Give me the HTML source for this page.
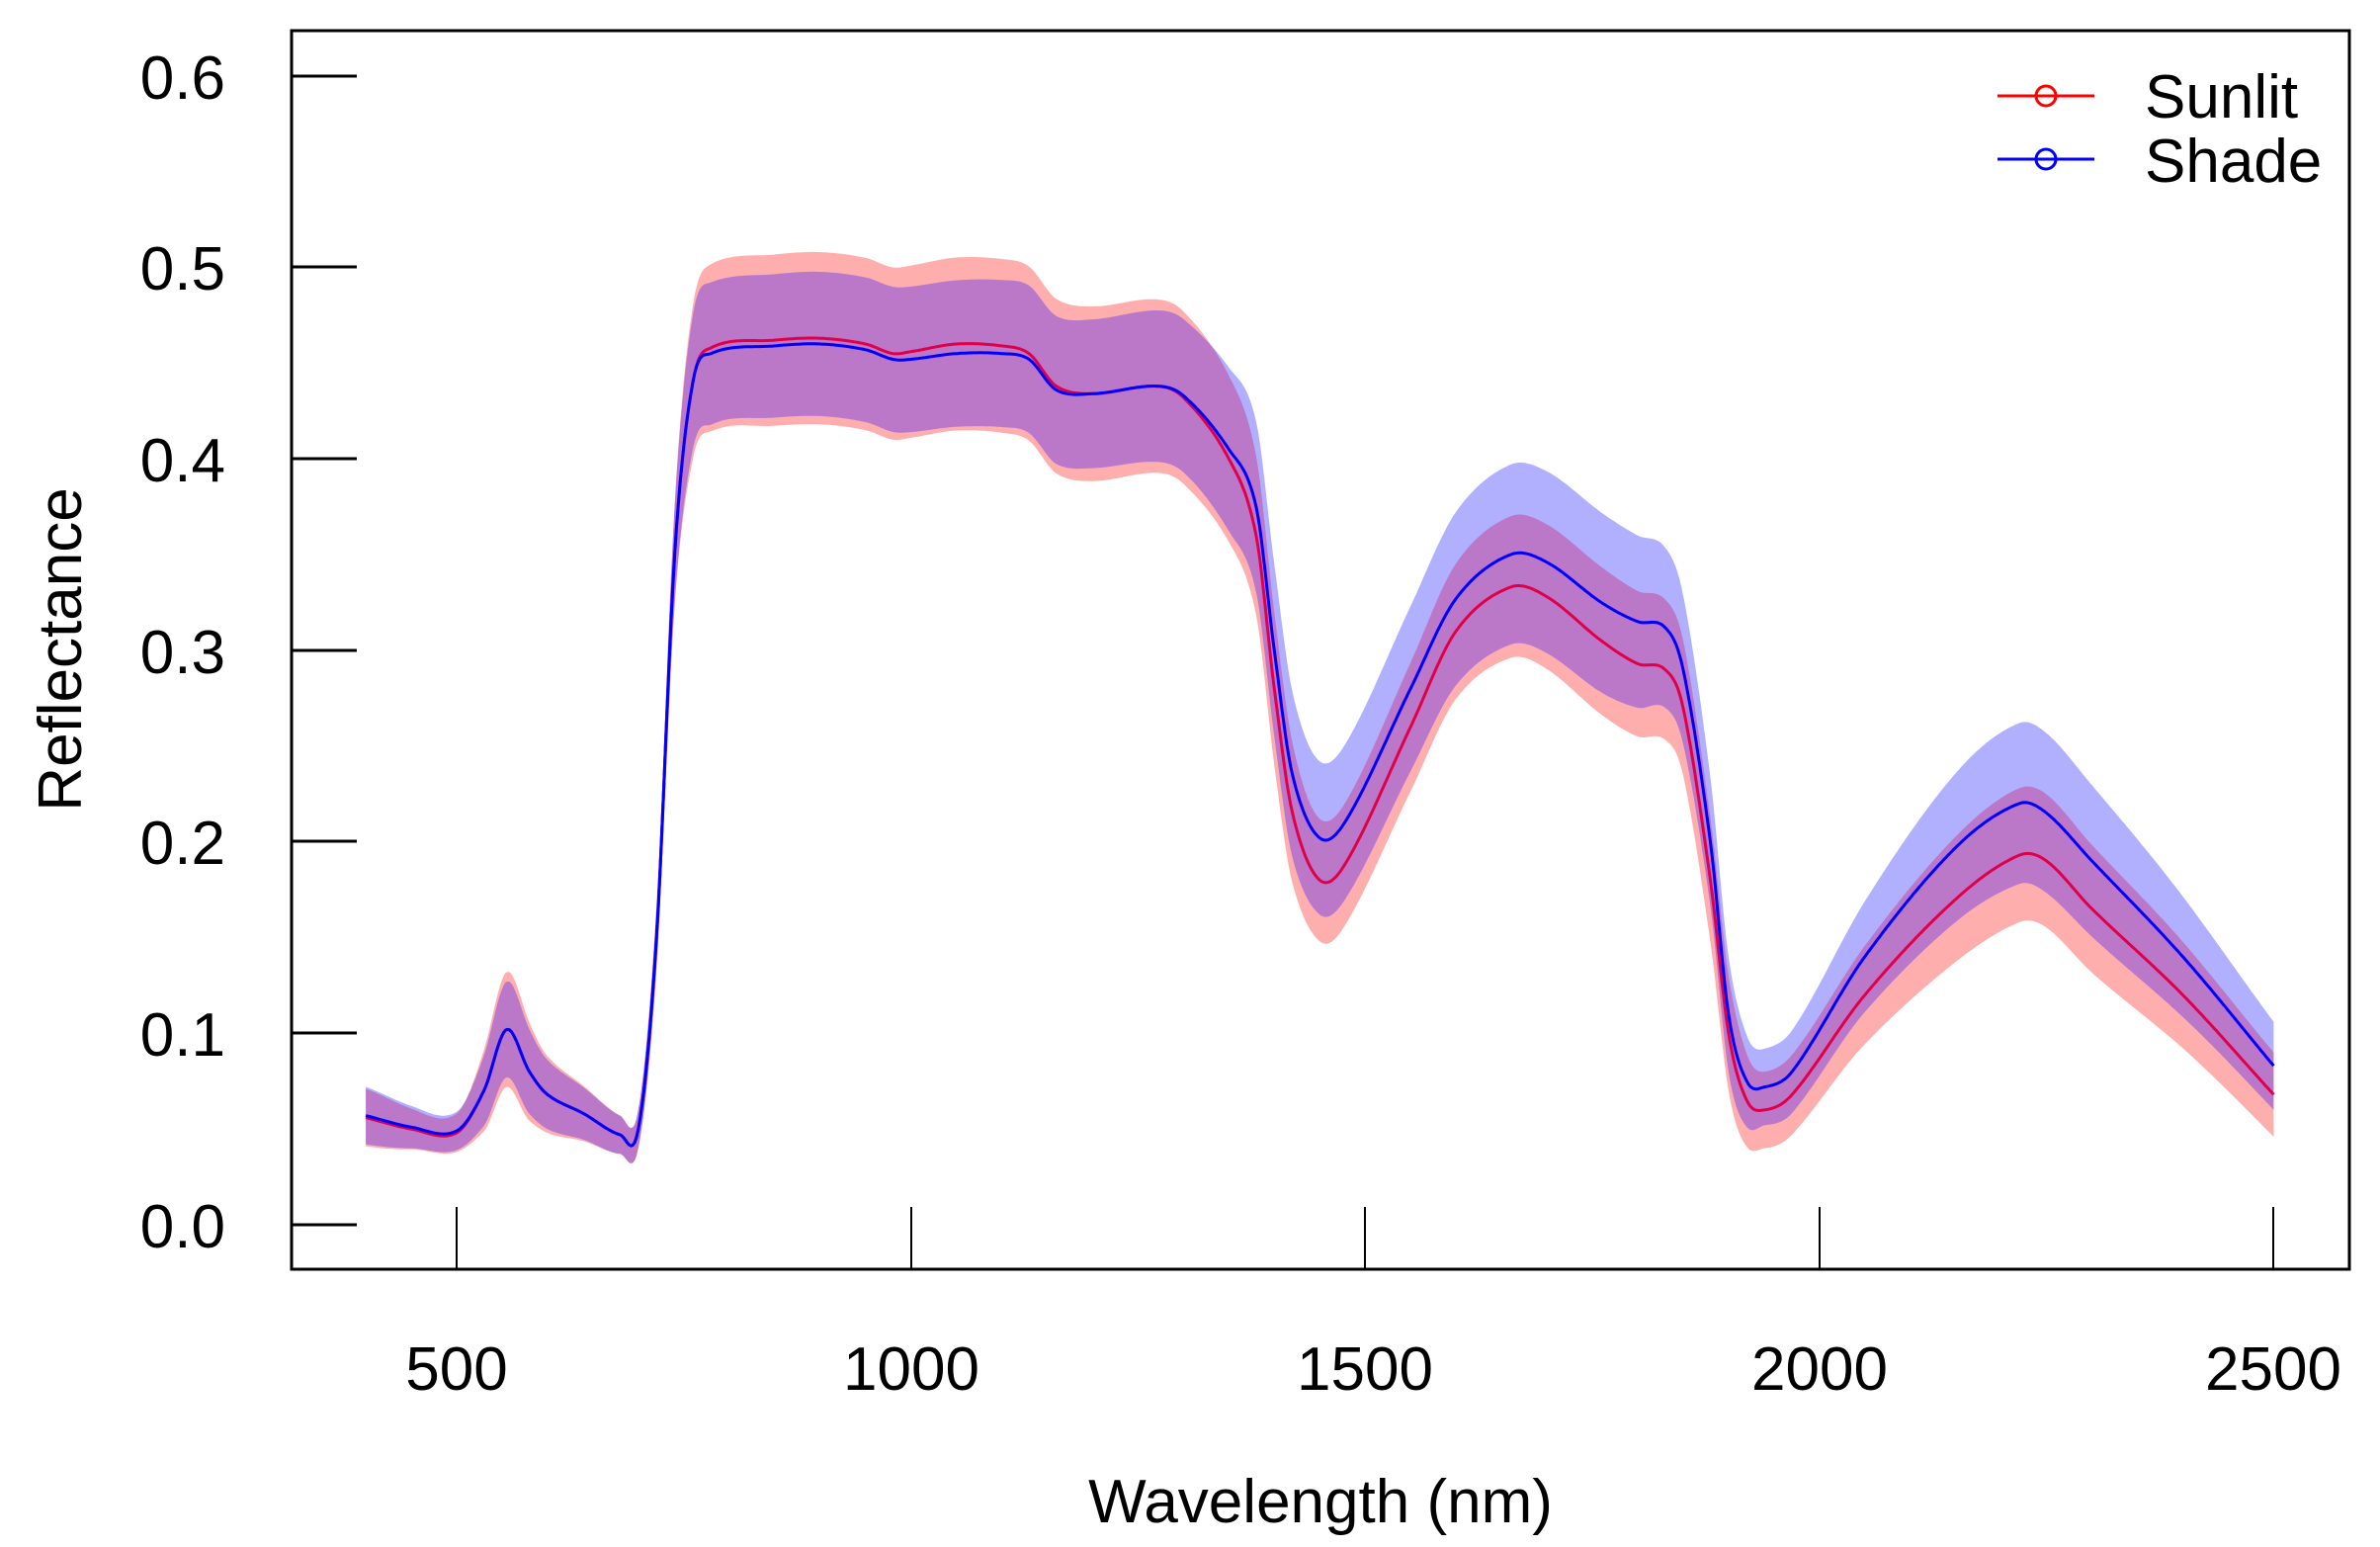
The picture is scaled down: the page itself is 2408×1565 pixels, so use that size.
<!DOCTYPE html>
<html><head><meta charset="utf-8"><style>
html,body{margin:0;padding:0;background:#fff;}
svg{display:block;font-family:"Liberation Sans",Arial,sans-serif;}
</style></head><body>
<svg id="s" width="2408" height="1565" viewBox="0 0 2408 1565" xmlns="http://www.w3.org/2000/svg">
<defs><clipPath id="cb"><path id="cbp" d=""/></clipPath></defs>
<path id="rb" fill="#ffaeae" d=""/>
<path id="bb" fill="#b0b0ff" d=""/>
<path id="ov" fill="#bc78c8" clip-path="url(#cb)" d=""/>
<path id="rl" fill="none" stroke="#e0004a" stroke-width="3" d=""/>
<path id="bl" fill="none" stroke="#0000ff" stroke-width="3" d=""/>
<rect x="295" y="31" width="2082" height="1253" fill="none" stroke="#000" stroke-width="3"/>
<g stroke="#000" stroke-width="3">
<line x1="295" y1="1239" x2="361" y2="1239"/><line x1="295" y1="1045" x2="361" y2="1045"/>
<line x1="295" y1="851" x2="361" y2="851"/><line x1="295" y1="658" x2="361" y2="658"/>
<line x1="295" y1="464" x2="361" y2="464"/><line x1="295" y1="270" x2="361" y2="270"/>
<line x1="295" y1="77" x2="361" y2="77"/>
</g>
<g stroke="#000" stroke-width="2">
<line x1="462" y1="1221" x2="462" y2="1284"/><line x1="922" y1="1221" x2="922" y2="1284"/>
<line x1="1381" y1="1221" x2="1381" y2="1284"/><line x1="1841" y1="1221" x2="1841" y2="1284"/>
<line x1="2300" y1="1221" x2="2300" y2="1284"/>
</g>
<g font-size="62" text-anchor="end" fill="#000">
<text x="228" y="1262">0.0</text><text x="228" y="1068">0.1</text><text x="228" y="874">0.2</text>
<text x="228" y="681">0.3</text><text x="228" y="487">0.4</text><text x="228" y="293">0.5</text><text x="228" y="100">0.6</text>
</g>
<g font-size="62" text-anchor="middle" fill="#000">
<text x="462" y="1406">500</text><text x="922" y="1406">1000</text><text x="1381" y="1406">1500</text>
<text x="1841" y="1406">2000</text><text x="2300" y="1406">2500</text>
<text x="1336" y="1540">Wavelength (nm)</text>
<text transform="translate(82,657) rotate(-90)">Reflectance</text>
</g>
<line x1="2021" y1="97" x2="2119" y2="97" stroke="#ff0000" stroke-width="3"/>
<circle cx="2070" cy="97" r="10" fill="none" stroke="#ff0000" stroke-width="3"/>
<line x1="2021" y1="161" x2="2119" y2="161" stroke="#0000ff" stroke-width="3"/>
<circle cx="2070" cy="161" r="10" fill="none" stroke="#0000ff" stroke-width="3"/>
<text x="2170" y="119" font-size="62">Sunlit</text>
<text x="2170" y="184" font-size="62">Shade</text>
</svg>
<script>
function X(w){return 462+(w-500)*459.6/500;}
function Y(v){return 1239-v*1937;}
function interp(p,w){var n=p.length;for(var i=0;i<n-1;i++){if(w>=p[i][0]&&w<=p[i+1][0]){var a=p[i],b=p[i+1];var h=b[0]-a[0];var t=(w-a[0])/h;
var p0=i>0?p[i-1]:a,p3=i<n-2?p[i+2]:b;
var m1=(b[1]-p0[1])/(b[0]-p0[0])*h,m2=(p3[1]-a[1])/(p3[0]-a[0])*h;
var lo=Math.min(a[1],b[1]),hi=Math.max(a[1],b[1]);
var t2=t*t,t3=t2*t;var v=(2*t3-3*t2+1)*a[1]+(t3-2*t2+t)*m1+(-2*t3+3*t2)*b[1]+(t3-t2)*m2;
if((a[1]-b[1])*(a[1]-b[1])>0.0004){v=Math.max(lo,Math.min(hi,v));}
return v;}}return p[n-1][1];}
var sm=[[400,0.056],[450,0.050],[500,0.048],[530,0.07],[555,0.102],[580,0.08],[600,0.068],[640,0.058],[680,0.047],[700,0.05],[720,0.15],[740,0.35],[760,0.44],[780,0.458],[850,0.462],[900,0.463],[950,0.46],[980,0.455],[1000,0.456],[1050,0.46],[1100,0.459],[1130,0.455],[1160,0.438],[1200,0.434],[1270,0.438],[1300,0.432],[1350,0.40],[1380,0.36],[1400,0.28],[1420,0.215],[1450,0.18],[1480,0.19],[1550,0.26],[1600,0.31],[1660,0.333],[1700,0.328],[1760,0.305],[1800,0.293],[1830,0.29],[1850,0.27],[1880,0.18],[1900,0.10],[1920,0.065],[1940,0.06],[1970,0.068],[2050,0.12],[2150,0.17],[2220,0.193],[2250,0.19],[2300,0.165],[2400,0.12],[2500,0.068]];
var bm=[[400,0.057],[450,0.051],[500,0.049],[530,0.07],[555,0.102],[580,0.08],[600,0.068],[640,0.058],[680,0.047],[700,0.05],[720,0.15],[740,0.35],[760,0.44],[780,0.455],[850,0.459],[900,0.46],[950,0.457],[980,0.452],[1000,0.452],[1050,0.455],[1100,0.455],[1130,0.452],[1160,0.436],[1200,0.434],[1270,0.438],[1300,0.433],[1350,0.405],[1380,0.375],[1400,0.30],[1420,0.235],[1450,0.202],[1480,0.212],[1550,0.28],[1600,0.327],[1660,0.35],[1700,0.346],[1760,0.325],[1800,0.315],[1830,0.312],[1850,0.29],[1880,0.20],[1900,0.11],[1920,0.075],[1940,0.072],[1970,0.08],[2050,0.14],[2150,0.197],[2220,0.22],[2250,0.215],[2300,0.19],[2400,0.14],[2500,0.083]];
var sw=[[400,0.015],[500,0.01],[555,0.03],[600,0.02],[680,0.01],[700,0.01],[730,0.02],[760,0.04],[800,0.044],[1000,0.045],[1300,0.045],[1400,0.04],[1450,0.032],[1660,0.037],[1800,0.038],[1900,0.03],[1940,0.02],[2220,0.035],[2500,0.022]];
var bw=[[400,0.015],[500,0.01],[555,0.025],[600,0.018],[680,0.01],[700,0.01],[730,0.02],[760,0.035],[800,0.037],[1000,0.038],[1300,0.04],[1400,0.045],[1450,0.04],[1660,0.047],[1800,0.045],[1900,0.03],[1940,0.02],[2220,0.042],[2500,0.023]];
function band(m,w){var up=[],lo=[];for(var x=400;x<=2500;x+=2){var v=interp(m,x),d=interp(w,x);up.push(X(x).toFixed(1)+","+Y(v+d).toFixed(1));lo.unshift(X(x).toFixed(1)+","+Y(v-d).toFixed(1));}return "M"+up.join(" L")+" L"+lo.join(" L")+"Z";}
function line(m){var p=[];for(var x=400;x<=2500;x+=2)p.push(X(x).toFixed(1)+","+Y(interp(m,x)).toFixed(1));return "M"+p.join(" L");}
var rb=band(sm,sw),bb=band(bm,bw);
document.getElementById('rb').setAttribute('d',rb);
document.getElementById('bb').setAttribute('d',bb);
document.getElementById('cbp').setAttribute('d',bb);
document.getElementById('ov').setAttribute('d',rb);
document.getElementById('rl').setAttribute('d',line(sm));
document.getElementById('bl').setAttribute('d',line(bm));
</script>
</body></html>
